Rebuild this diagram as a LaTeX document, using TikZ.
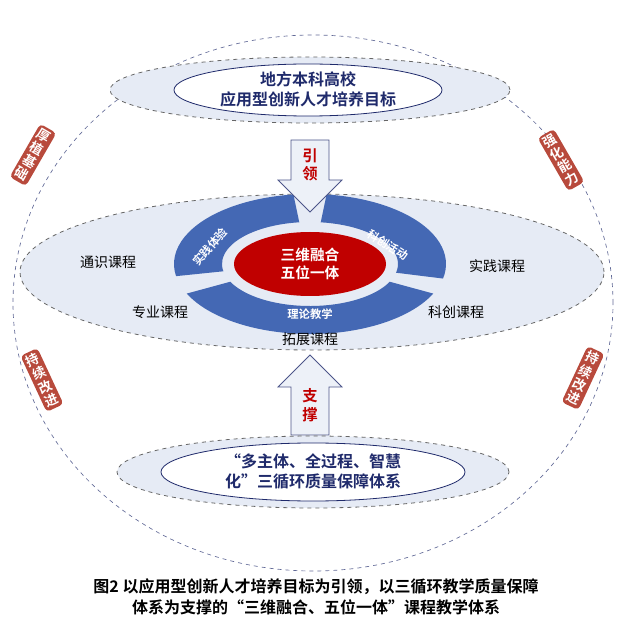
\documentclass[tikz,border=0pt]{standalone}
\usepackage{fontspec}
\setmainfont{Noto Sans CJK SC}
\newfontfamily\cjkb{Noto Sans CJK SC Bold}
\usetikzlibrary{positioning,calc}
\definecolor{ringblue}{HTML}{4468B4}
\definecolor{deepred}{HTML}{C00000}
\definecolor{badgered}{HTML}{B84A3C}
\definecolor{navy}{HTML}{1F2A6B}
\definecolor{palebg}{HTML}{E6EBF5}

\begin{document}
\begin{tikzpicture}[
  x=0.75pt,y=0.75pt,
  zone/.style={draw=gray!80!black,dashed,fill=palebg,line width=.6pt},
  goal/.style={draw=navy,fill=white,line width=.6pt},
  badge/.style={fill=badgered,rounded corners=3pt,text=white,font=\cjkb\fontsize{10}{11}\selectfont,inner sep=2pt,align=center},
  course/.style={font=\fontsize{10.5}{12}\selectfont},
  arrowbody/.style={draw=navy!80,fill=palebg!70!white,line width=.6pt},
  arrowtext/.style={text=deepred,font=\cjkb\fontsize{11.5}{14}\selectfont,align=center}
]
  \useasboundingbox (0,0) rectangle (632,-627);

  % Outer circle
  \draw[dashed,navy!70,line width=.5pt] (313,-303) ellipse [x radius=300,y radius=268];

  % Top goal
  \draw[zone] (310,-90) ellipse [x radius=200,y radius=33];
  \draw[goal] (308,-90) ellipse [x radius=134,y radius=26];
  \node[text=navy,font=\cjkb\fontsize{12}{15}\selectfont,align=center] (goaltext) at (308,-89) {地方本科高校\\应用型创新人才培养目标};

  % Middle layer
  \draw[zone] (312,-272) ellipse [x radius=292,y radius=78];
  \coordinate (ringc) at (310,-264);
  \foreach \sa/\ea in {97/190,-12/83,205/335}
    \fill[ringblue] ($(ringc)+(\sa:136 and 70)$) arc[start angle=\sa,end angle=\ea,x radius=136,y radius=70]
      -- ($(ringc)+(\ea:88 and 42)$) arc[start angle=\ea,end angle=\sa,x radius=88,y radius=42] -- cycle;
  \fill[deepred] (ringc) ellipse [x radius=76,y radius=32];
  \node[text=white,font=\cjkb\fontsize{11}{14}\selectfont,align=center] (core) at (ringc) {三维融合\\五位一体};
  \node[text=white,font=\cjkb\fontsize{8.5}{10}\selectfont,rotate=48] (practice) at (210,-247) {实践体验};
  \node[text=white,font=\cjkb\fontsize{8.5}{10}\selectfont,rotate=-33] (research) at (388,-245) {科创活动};
  \node[text=white,font=\cjkb\fontsize{8.5}{10}\selectfont] (theory) at (310,-314) {理论教学};

  % Courses
  \node[course] (general) at (108,-262) {通识课程};
  \node[course] (major) at (160,-312) {专业课程};
  \node[course] (prac) at (497,-266) {实践课程};
  \node[course] (innov) at (456,-312) {科创课程};
  \node[course] (ext) at (310,-339) {拓展课程};

  % Arrows
  \draw[arrowbody] (291,-140) -- (329,-140) -- (329,-180) -- (342,-180) -- (310,-212) -- (278,-180) -- (291,-180) -- cycle;
  \node[arrowtext] (lead) at (310,-165) {引\\领};
  \draw[arrowbody] (291,-435) -- (329,-435) -- (329,-387) -- (342,-387) -- (310,-355) -- (278,-387) -- (291,-387) -- cycle;
  \node[arrowtext] (support) at (310,-405) {支\\撑};

  % Bottom support
  \draw[zone] (313,-472) ellipse [x radius=196,y radius=36];
  \draw[goal] (313,-472) ellipse [x radius=152,y radius=29];
  \node[text=navy,font=\cjkb\fontsize{12}{15}\selectfont,align=center] (supporttext) at (313,-471) {“多主体、全过程、智慧\\化”三循环质量保障体系};

  % Badges
  \node[badge,rotate=-30] (b1) at (33,-155) {厚\\植\\基\\础};
  \node[badge,rotate=30] (b2) at (561,-160) {强\\化\\能\\力};
  \node[badge,rotate=25] (b3) at (42,-380) {持\\续\\改\\进};
  \node[badge,rotate=-25] (b4) at (583,-378) {持\\续\\改\\进};

  % Caption
  \node[font=\cjkb\fontsize{12}{16}\selectfont,align=center] (caption) at (316,-597) {图2 以应用型创新人才培养目标为引领，以三循环教学质量保障\\体系为支撑的“三维融合、五位一体”课程教学体系};
\end{tikzpicture}
\end{document}
